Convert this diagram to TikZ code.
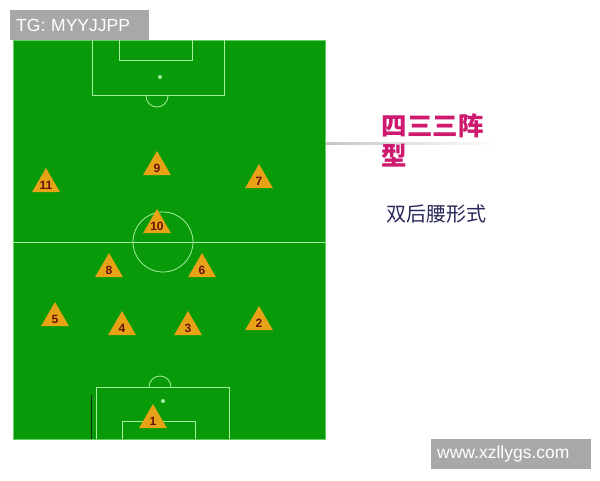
\documentclass[tikz,border=0pt]{standalone}
\usepackage{fontspec}
\setmainfont{Liberation Sans}
\newfontfamily\cjk{Noto Sans CJK SC}
\usepackage{tikz}
\usetikzlibrary{shapes,positioning}
\definecolor{pitch}{RGB}{8,154,8}
\definecolor{chalk}{RGB}{165,240,160}
\definecolor{cone}{RGB}{232,162,22}
\definecolor{shirt}{RGB}{105,18,12}
\definecolor{title}{RGB}{205,25,110}
\definecolor{navy}{RGB}{40,40,90}
\definecolor{mark}{RGB}{168,168,168}
\newcommand\shirtno[1]{\makebox[0pt]{#1}}
\tikzset{plyr/.style={regular polygon,regular polygon sides=3,fill=cone,inner sep=0pt,minimum size=32pt,text height=11pt,text depth=0pt,text=shirt,font=\bfseries\fontsize{12}{12}\selectfont}}
\tikzset{tag/.style={fill=mark,text=white,inner xsep=6pt,inner ysep=0pt,minimum height=30pt,align=left,font=\fontsize{17.5}{18}\selectfont}}
\tikzset{chalkline/.style={draw=chalk,line width=0.8pt}}

\begin{document}
\begin{tikzpicture}[x=1pt,y=-1pt]
    \useasboundingbox (0,0) rectangle (600,480);
    \fill[pitch,draw=chalk!60!pitch,line width=0.6pt] (13,40) rectangle (325,439);

    \draw [chalkline] (13,242) -- (325,242);
    \draw [chalkline] (163,242) circle[radius=30];
    \draw [chalkline] (92,40) -- (92,95) -- (224,95) -- (224,40);
    \draw [chalkline] (119,40) -- (119,60) -- (192,60) -- (192,40);
    \draw [chalkline] (146,96) arc[start angle=180,end angle=0,radius=11];
    \fill [chalk] (160,77) circle[radius=2];
    \draw [chalkline] (96,439) -- (96,387) -- (229,387) -- (229,439);
    \draw [chalkline] (122,439) -- (122,421) -- (195,421) -- (195,439);
    \draw [chalkline] (149,387) arc[start angle=180,end angle=360,radius=11];
    \fill [chalk] (163,401) circle[radius=2];
    \draw [black!70!pitch,line width=1pt] (91,395) -- (91,439);

    \node[plyr] (p11)at (46,184) {\shirtno{11}};
    \node[plyr] (p9)at (157,167) {\shirtno{9}};
    \node[plyr] (p7)at (259,180) {\shirtno{7}};
    \node[plyr] (p10)at (157,225) {\shirtno{10}};
    \node[plyr] (p8)at (109,269) {\shirtno{8}};
    \node[plyr] (p6)at (202,269) {\shirtno{6}};
    \node[plyr] (p5)at (55,318) {\shirtno{5}};
    \node[plyr] (p4)at (122,327) {\shirtno{4}};
    \node[plyr] (p3)at (188,327) {\shirtno{3}};
    \node[plyr] (p2)at (259,322) {\shirtno{2}};
    \node[plyr] (p1)at (153,420) {\shirtno{1}};

    \shade [left color=gray!45,right color=white] (326,142.3) rectangle (498,144);
    \node[anchor=west,align=left,text=title,font=\cjk\bfseries\fontsize{25.5}{30}\selectfont] (name)at (378,140) {四三三阵\\型};
    \node[anchor=west,text=navy,font=\cjk\fontsize{20}{24}\selectfont] (kind)at (383,214) {双后腰形式};

    \node[tag,anchor=north west,text width=127pt] (tg)at (10,10) {TG: MYYJJPP};
    \node[tag,anchor=north west,text width=148pt] (web)at (431,439) {www.xzllygs.com};
\end{tikzpicture}
\end{document}
